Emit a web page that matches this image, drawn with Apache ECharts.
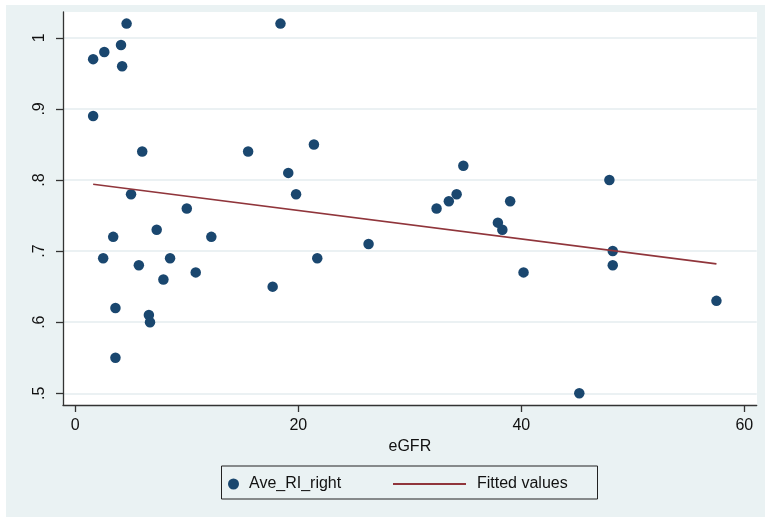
<!DOCTYPE html>
<html>
<head>
<meta charset="utf-8">
<script src="https://cdn.jsdelivr.net/npm/echarts@6/dist/echarts.min.js"></script>
<style>
html,body{margin:0;padding:0;background:#fff;}
#c{width:765px;height:517px;}
</style>
</head>
<body>
<div id="c"></div>
<script>
// eGFR values (x) and Ave_RI_right values (y)
const eGFR = [1.6, 2.6, 4.6, 4.1, 4.2, 1.6, 6.0, 5.0, 10.0, 3.4, 7.3, 12.2, 2.5, 5.7, 8.5, 7.9, 10.8, 3.6, 6.6, 6.7, 3.6,
              18.4, 15.5, 21.4, 19.1, 19.8, 17.7, 21.7, 26.3, 32.4, 33.5, 34.2, 34.8, 37.9, 38.3, 39.0, 40.2, 45.2, 47.9, 48.2, 48.2, 57.5];
const aveRIRight = [0.97, 0.98, 1.02, 0.99, 0.96, 0.89, 0.84, 0.78, 0.76, 0.72, 0.73, 0.72, 0.69, 0.68, 0.69, 0.66, 0.67, 0.62, 0.61, 0.60, 0.55,
              1.02, 0.84, 0.85, 0.81, 0.78, 0.65, 0.69, 0.71, 0.76, 0.77, 0.78, 0.82, 0.74, 0.73, 0.77, 0.67, 0.50, 0.80, 0.70, 0.68, 0.63];
// Fitted values line (endpoints)
const fitX = [1.6, 57.5];
const fitY = [0.794, 0.682];
// Tick labels
const xTicks = [0, 20, 40, 60];
const yTicks = [0.5, 0.6, 0.7, 0.8, 0.9, 1.0];

const scatterData = eGFR.map((x, i) => [x, aveRIRight[i]]);
const fitData = fitX.map((x, i) => [x, fitY[i]]);

const FONT = 'Liberation Sans, Arial, sans-serif';
const FS = 16;
const chart = echarts.init(document.getElementById('c'), null, {renderer: 'canvas'});
chart.setOption({
  animation: false,
  backgroundColor: '#ffffff',
  graphic: [
    {type: 'rect', z: -10, silent: true, shape: {x: 6, y: 5, width: 759, height: 512}, style: {fill: '#EAF2F3'}},
    {type: 'rect', z: -9, silent: true, shape: {x: 63, y: 12, width: 694, height: 393}, style: {fill: '#ffffff'}},
    {type: 'rect', z: 10, silent: true, shape: {x: 221.5, y: 466, width: 376, height: 33}, style: {fill: 'none', stroke: '#222', lineWidth: 1}}
  ],
  grid: {left: 63, top: 12, right: 8.3, bottom: 112, containLabel: false},
  xAxis: {
    type: 'value', min: -1.103, max: 61.11,
    name: 'eGFR', nameLocation: 'middle', nameGap: 31,
    nameTextStyle: {fontFamily: FONT, fontSize: FS, color: '#111'},
    axisLine: {show: true, onZero: false, lineStyle: {color: '#333', width: 1.3}},
    axisTick: {show: true, length: 7, customValues: xTicks, lineStyle: {color: '#333', width: 1.3}},
    axisLabel: {customValues: xTicks, margin: 13, fontFamily: FONT, fontSize: FS, color: '#111'},
    splitLine: {show: false}
  },
  yAxis: {
    type: 'value', min: 0.4835, max: 1.0363,
    axisLine: {show: true, onZero: false, lineStyle: {color: '#333', width: 1.3}},
    axisTick: {show: true, length: 7, customValues: yTicks, lineStyle: {color: '#333', width: 1.3}},
    axisLabel: {customValues: yTicks, rotate: 90, margin: 15, fontFamily: FONT, fontSize: FS, color: '#111',
      formatter: v => (Math.abs(v - 1) < 1e-9 ? '1' : v.toFixed(1).replace(/^0\./, '.'))},
    splitLine: {show: true, lineStyle: {color: '#E4EDEF', width: 1.5}}
  },
  legend: [
    {data: ['Ave_RI_right'], left: 223, top: 471, itemWidth: 11, itemHeight: 11, itemGap: 0,
     textStyle: {fontFamily: FONT, fontSize: FS, color: '#111', padding: [0, 0, 0, 5]}},
    {data: ['Fitted values'], left: 387, top: 471, itemWidth: 73, itemHeight: 2, itemGap: 0,
     textStyle: {fontFamily: FONT, fontSize: FS, color: '#111', padding: [0, 0, 0, 6]}}
  ],
  series: [
    {name: 'Ave_RI_right', type: 'scatter', data: scatterData, symbol: 'circle', symbolSize: 10.5,
     itemStyle: {color: '#1A476F', opacity: 1}},
    {name: 'Fitted values', type: 'line', data: fitData, symbol: 'none', showSymbol: false,
     lineStyle: {color: '#90353B', width: 1.6}, itemStyle: {color: '#90353B'}}
  ]
});
</script>
</body>
</html>
